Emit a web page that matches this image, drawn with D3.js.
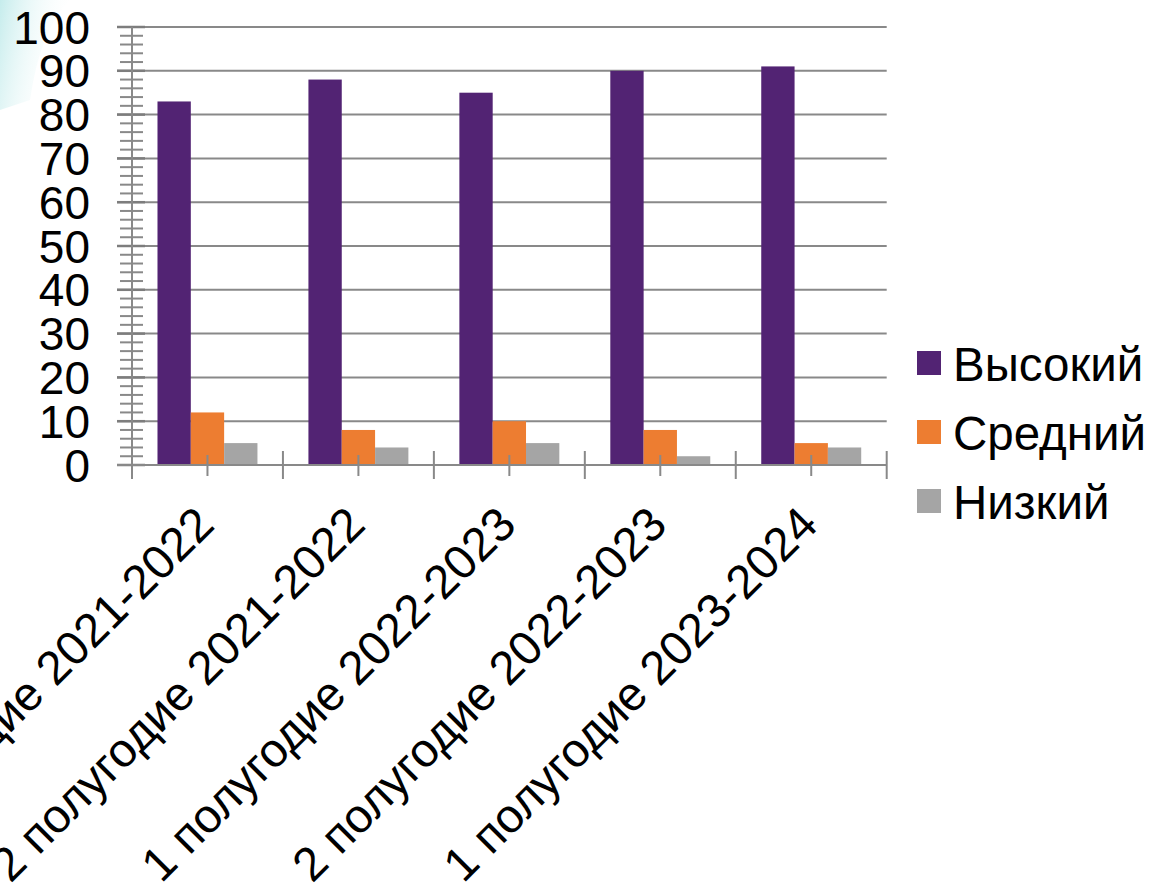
<!DOCTYPE html>
<html>
<head>
<meta charset="utf-8">
<script src="https://cdn.jsdelivr.net/npm/d3@7"></script>
<style>
    body { margin: 0; background: #fff; }
    svg { display: block; font-family: "Liberation Sans", Arial, sans-serif; }
</style>
</head>
<body>
<div id="chart-container"></div>
<script>
// Chart data
const categories = [
    '1 полугодие 2021-2022',
    '2 полугодие 2021-2022',
    '1 полугодие 2022-2023',
    '2 полугодие 2022-2023',
    '1 полугодие 2023-2024'
];
const seriesNames = ['Высокий', 'Средний', 'Низкий'];
const highValues = [83, 88, 85, 90, 91];
const midValues = [12, 8, 10, 8, 5];
const lowValues = [5, 4, 5, 2, 4];
const seriesColors = ['#522373', '#ED7D31', '#A5A5A5'];
const yTicks = [0, 10, 20, 30, 40, 50, 60, 70, 80, 90, 100];

const WIDTH = 1153;
const HEIGHT = 886;
const AXIS_FONT = 46;   // value axis numbers
const LABEL_FONT = 47.5; // category labels and legend
const GRID = '#898989';

const svg = d3.select('#chart-container').append('svg')
    .attr('width', WIDTH)
    .attr('height', HEIGHT);

// faint teal slide decoration in the top left corner
const defs = svg.append('defs');
const grad = defs.append('linearGradient')
    .attr('id', 'corner')
    .attr('x1', 0).attr('y1', 0).attr('x2', 1).attr('y2', 0.3);
grad.append('stop').attr('offset', 0).attr('stop-color', '#bfeaea').attr('stop-opacity', 0.9);
grad.append('stop').attr('offset', 1).attr('stop-color', '#ffffff').attr('stop-opacity', 0);
svg.append('path')
    .attr('d', 'M0,0 L70,0 Q40,30 30,100 L0,110 Z')
    .attr('fill', 'url(#corner)');

// Scales
const xScale = d3.scaleBand()
    .domain(categories)
    .range([132, 886.7])
    .padding(0);
const xSub = d3.scaleBand()
    .domain(seriesNames)
    .range([0, xScale.bandwidth()])
    .paddingInner(0)
    .paddingOuter(0.765);
const yScale = d3.scaleLinear()
    .domain([0, 100])
    .range([465, 27]);

const plotLeft = 117;
const plotRight = xScale.range()[1];

// Horizontal gridlines
svg.append('g')
    .selectAll('line')
    .data(yTicks)
    .enter()
    .append('line')
        .attr('x1', plotLeft)
        .attr('x2', plotRight)
        .attr('y1', d => yScale(d))
        .attr('y2', d => yScale(d))
        .attr('stroke', GRID)
        .attr('stroke-width', 2);

// Minor ticks on the value axis, every 2
svg.append('g')
    .selectAll('line')
    .data(yScale.ticks(50).filter(d => d % 10 !== 0))
    .enter()
    .append('line')
        .attr('x1', 120)
        .attr('x2', 143)
        .attr('y1', d => yScale(d))
        .attr('y2', d => yScale(d))
        .attr('stroke', GRID)
        .attr('stroke-width', 2);

// Major tick stubs (a bit darker than the grid)
svg.append('g')
    .selectAll('line')
    .data(yTicks)
    .enter()
    .append('line')
        .attr('x1', plotLeft)
        .attr('x2', 145)
        .attr('y1', d => yScale(d))
        .attr('y2', d => yScale(d))
        .attr('stroke', '#7d7d7d')
        .attr('stroke-width', 2.5);

// Value axis labels
svg.append('g')
    .selectAll('text')
    .data(yTicks)
    .enter()
    .append('text')
        .attr('x', 90)
        .attr('y', d => yScale(d))
        .attr('dy', '0.36em')
        .attr('font-size', AXIS_FONT)
        .attr('fill', '#000')
        .style('text-anchor', 'end')
        .text(d => d);

// Bars
const seriesData = [highValues, midValues, lowValues];
svg.append('g')
    .selectAll('g')
    .data(seriesData)
    .enter()
    .append('g')
        .attr('fill', (d, i) => seriesColors[i])
    .selectAll('rect')
    .data((values, si) => values.map((v, ci) => ({ v, cat: categories[ci], name: seriesNames[si] })))
    .enter()
    .append('rect')
        .attr('x', d => xScale(d.cat) + xSub(d.name))
        .attr('width', xSub.bandwidth())
        .attr('y', d => yScale(d.v))
        .attr('height', d => yScale(0) - yScale(d.v));

// Axis lines
svg.append('line')
    .attr('x1', 132).attr('x2', 132)
    .attr('y1', yScale(100)).attr('y2', 479)
    .attr('stroke', GRID).attr('stroke-width', 2);
svg.append('line')
    .attr('x1', plotLeft).attr('x2', plotRight)
    .attr('y1', yScale(0)).attr('y2', yScale(0))
    .attr('stroke', GRID).attr('stroke-width', 2);

// Category boundary ticks and small ticks in the middle of each category
const boundaries = categories.map(c => xScale(c)).concat([plotRight]);
svg.append('g')
    .selectAll('line')
    .data(boundaries.slice(1))
    .enter()
    .append('line')
        .attr('x1', d => d).attr('x2', d => d)
        .attr('y1', 451).attr('y2', 479)
        .attr('stroke', GRID).attr('stroke-width', 2);
svg.append('g')
    .selectAll('line')
    .data(categories)
    .enter()
    .append('line')
        .attr('x1', d => xScale(d) + xScale.bandwidth() / 2)
        .attr('x2', d => xScale(d) + xScale.bandwidth() / 2)
        .attr('y1', 455).attr('y2', 476)
        .attr('stroke', GRID).attr('stroke-width', 2);

// Rotated category labels
svg.append('g')
    .selectAll('text')
    .data(categories)
    .enter()
    .append('text')
        .attr('transform', d => `translate(${xScale(d) + xScale.bandwidth() / 2 + 9}, 527) rotate(-45)`)
        .attr('font-size', LABEL_FONT)
        .attr('fill', '#000')
        .style('text-anchor', 'end')
        .text(d => d);

// Legend
const legend = svg.append('g')
    .selectAll('g')
    .data(seriesNames)
    .enter()
    .append('g')
        .attr('transform', (d, i) => `translate(917, ${351 + i * 69})`);
legend.append('rect')
    .attr('width', 24)
    .attr('height', 24)
    .attr('fill', (d, i) => seriesColors[i]);
legend.append('text')
    .attr('x', 36)
    .attr('y', 30)
    .attr('font-size', LABEL_FONT)
    .attr('fill', '#000')
    .text(d => d);
</script>
</body>
</html>
